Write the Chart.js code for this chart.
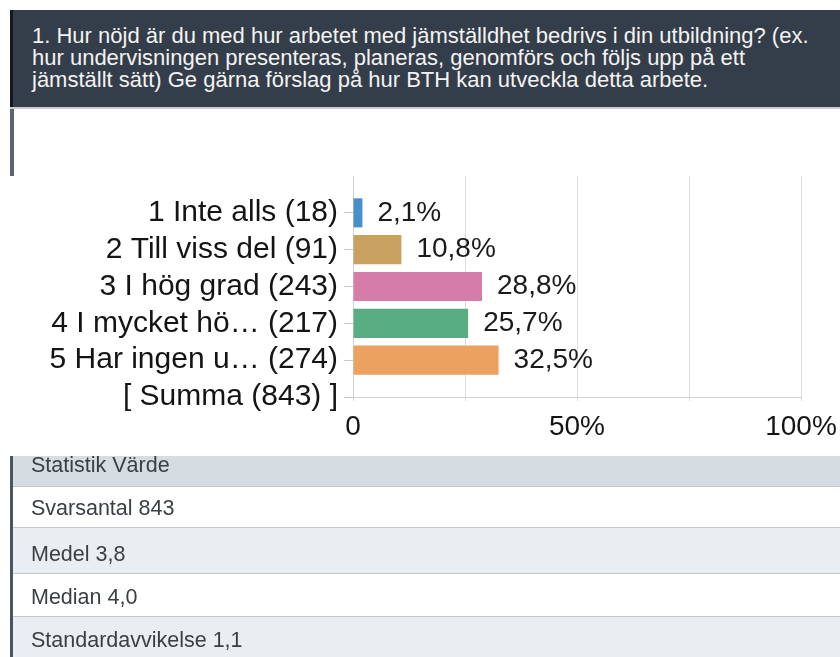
<!DOCTYPE html>
<html>
<head>
<meta charset="utf-8">
<script src="https://cdn.jsdelivr.net/npm/chart.js@4"></script>
<style>
  html, body { margin: 0; padding: 0; }
  body {
    width: 840px; height: 657px; overflow: hidden; position: relative;
    background: #fff; font-family: 'Liberation Sans', Arial, sans-serif;
  }
  .question {
    position: absolute; left: 10px; top: 10px; width: 811px; height: 82px;
    background: #333e4a; border-left: 3px solid #15191d;
    padding: 15px 0 0 19px; color: #f3f3f3; font-size: 22px; line-height: 22px;
  }
  .question-rule { position: absolute; left: 10px; top: 107px; width: 830px; height: 2px; background: #c9cdd1; }
  .question-side { position: absolute; left: 10px; top: 109px; width: 4px; height: 67px; background: #5a6573; }
  .chart-box { position: absolute; left: 0; top: 176px; width: 840px; height: 280px; }
  .stats {
    position: absolute; left: 10px; top: 456px; width: 827px; height: 201px;
    border-left: 3px solid #4a5563; color: #3a3f44; font-size: 21.5px;
  }
  .stats div { box-sizing: border-box; border-bottom: 1px solid #c4c8cb; padding-left: 18px; white-space: nowrap; }
  .stats div:nth-child(1) { height: 31px; line-height: 18px; background: #d5dde2; }
  .stats div:nth-child(2) { height: 41px; line-height: 43px; background: #fff; }
  .stats div:nth-child(3) { height: 46px; line-height: 52px; background: #e9eef2; }
  .stats div:nth-child(4) { height: 43px; line-height: 46px; background: #fff; }
  .stats div:nth-child(5) { height: 40px; line-height: 46px; background: #e9eef2; border-bottom: none; }
</style>
</head>
<body>
<div class="question">1. Hur nöjd är du med hur arbetet med jämställdhet bedrivs i din utbildning? (ex.<br>hur undervisningen presenteras, planeras, genomförs och följs upp på ett<br>jämställt sätt) Ge gärna förslag på hur BTH kan utveckla detta arbete.</div>
<div class="question-rule"></div>
<div class="question-side"></div>
<div class="chart-box"><canvas id="chart" width="840" height="280"></canvas></div>
<div class="stats" id="stats"></div>

<script>
// answer categories (first slot left empty so the bars start one step below the top)
const categories = ['', '1 Inte alls (18)', '2 Till viss del (91)', '3 I hög grad (243)',
  '4 I mycket hö… (217)', '5 Har ingen u… (274)', '[ Summa (843) ]'];
const percentages = [null, 2.1, 10.8, 28.8, 25.7, 32.5, null];
const barColors = ['#000', '#4a90c8', '#c8a060', '#d67ca9', '#59ad83', '#eba160', '#000'];
const xTickLabels = { 0: '0', 50: '50%', 100: '100%' };

const statRows = ['Statistik Värde', 'Svarsantal 843', 'Medel 3,8', 'Median 4,0', 'Standardavvikelse 1,1'];

const FONT = "'Liberation Sans', Arial, sans-serif";
Chart.defaults.font.family = FONT;
Chart.defaults.plugins.legend.display = false;
Chart.defaults.plugins.tooltip.enabled = false;

// percent labels to the right of each bar
const valueLabels = {
  id: 'valueLabels',
  afterDatasetsDraw(chart) {
    const ctx = chart.ctx;
    const meta = chart.getDatasetMeta(0);
    ctx.save();
    ctx.font = '28px ' + FONT;
    ctx.fillStyle = '#1a1a1a';
    ctx.textAlign = 'left';
    ctx.textBaseline = 'middle';
    meta.data.forEach((bar, i) => {
      const v = percentages[i];
      if (v === null) return;
      ctx.fillText(v.toFixed(1).replace('.', ',') + '%', bar.x + 15, bar.y);
    });
    ctx.restore();
  },
};

new Chart(document.getElementById('chart'), {
  type: 'bar',
  data: {
    labels: categories,
    datasets: [{
      data: percentages,
      backgroundColor: barColors,
      barPercentage: 0.79,
      categoryPercentage: 1,
    }],
  },
  options: {
    indexAxis: 'y',
    responsive: false,
    animation: false,
    devicePixelRatio: 1,
    layout: { padding: 0 },
    scales: {
      x: {
        min: 0,
        max: 100,
        ticks: {
          stepSize: 25,
          autoSkip: false,
          maxRotation: 0,
          padding: 9,
          color: '#141414',
          font: { size: 28 },
          callback: (v) => xTickLabels[v] || '',
        },
        grid: { color: '#dcdcdc', tickLength: 4 },
        border: { color: '#d0d0d0' },
        afterFit: (s) => { s.height = 59; s.paddingLeft = 0; s.paddingRight = 39; },
      },
      y: {
        type: 'category',
        offset: false,
        ticks: { autoSkip: false, padding: 6, color: '#141414', font: { size: 30 } },
        grid: {
          offset: false,
          drawOnChartArea: false,
          tickLength: 9,
          color: (c) => (c.index === 0 ? 'rgba(0,0,0,0)' : '#c8c8c8'),
        },
        border: { color: '#d0d0d0' },
        afterFit: (s) => { s.width = 353; s.paddingTop = 0; s.paddingBottom = 0; },
      },
    },
  },
  plugins: [valueLabels],
});

const stats = document.getElementById('stats');
statRows.forEach((t) => {
  const row = document.createElement('div');
  row.textContent = t;
  stats.appendChild(row);
});
</script>
</body>
</html>
